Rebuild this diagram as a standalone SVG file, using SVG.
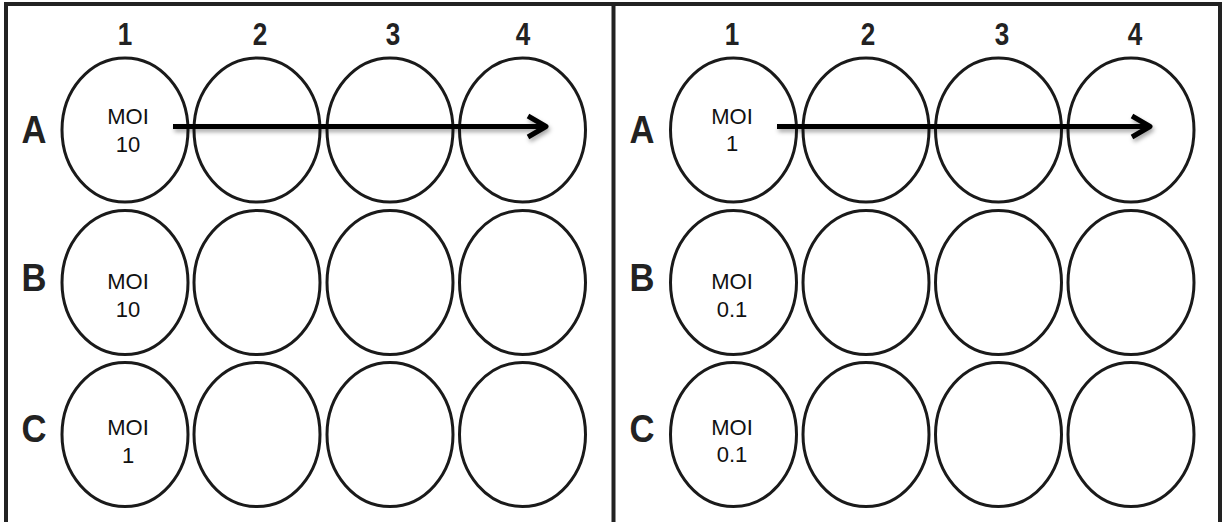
<svg xmlns="http://www.w3.org/2000/svg" width="1227" height="522" viewBox="0 0 1227 522">
  <style>
    .frame { fill: none; stroke: #222; stroke-width: 4; }
    .well { fill: none; stroke: #1a1a1a; stroke-width: 3; }
    .col { font-family: "Liberation Sans", Arial, sans-serif; font-weight: bold; font-size: 31px; fill: #222; text-anchor: middle; }
    .row { font-family: "Liberation Sans", Arial, sans-serif; font-weight: bold; font-size: 38px; fill: #222; text-anchor: middle; }
    .moi { font-family: "Liberation Sans", Arial, sans-serif; font-size: 22px; fill: #111; text-anchor: middle; }
    .arrow { fill: none; stroke: #000; stroke-width: 5; stroke-linejoin: round; }
  </style>
  <defs>
    <filter id="shadow" x="-10%" y="-100%" width="120%" height="300%">
      <feDropShadow dx="1.5" dy="3" stdDeviation="2" flood-color="#000" flood-opacity="0.35"/>
    </filter>
  </defs>
  <rect width="1227" height="522" fill="#fff"/>
  <g id="frame">
    <polyline class="frame" points="6,524 6,4 1220,4 1220,524"/>
    <line class="frame" x1="613.5" y1="4" x2="613.5" y2="524"/>
  </g>
  <g id="labels-left">
    <text class="col" x="125" y="45" textLength="14.5" lengthAdjust="spacingAndGlyphs">1</text>
    <text class="col" x="260" y="45" textLength="14.5" lengthAdjust="spacingAndGlyphs">2</text>
    <text class="col" x="393" y="45" textLength="14.5" lengthAdjust="spacingAndGlyphs">3</text>
    <text class="col" x="523" y="45" textLength="14.5" lengthAdjust="spacingAndGlyphs">4</text>
    <text class="row" x="34" y="143" textLength="25" lengthAdjust="spacingAndGlyphs">A</text>
    <text class="row" x="34" y="291" textLength="25" lengthAdjust="spacingAndGlyphs">B</text>
    <text class="row" x="34" y="442" textLength="25" lengthAdjust="spacingAndGlyphs">C</text>
  </g>
  <g id="labels-right">
    <text class="col" x="732" y="45" textLength="14.5" lengthAdjust="spacingAndGlyphs">1</text>
    <text class="col" x="868" y="45" textLength="14.5" lengthAdjust="spacingAndGlyphs">2</text>
    <text class="col" x="1002" y="45" textLength="14.5" lengthAdjust="spacingAndGlyphs">3</text>
    <text class="col" x="1135" y="45" textLength="14.5" lengthAdjust="spacingAndGlyphs">4</text>
    <text class="row" x="642" y="143" textLength="25" lengthAdjust="spacingAndGlyphs">A</text>
    <text class="row" x="642" y="291" textLength="25" lengthAdjust="spacingAndGlyphs">B</text>
    <text class="row" x="642" y="442" textLength="25" lengthAdjust="spacingAndGlyphs">C</text>
  </g>
  <g id="plate-left">
    <g id="L-A1"><ellipse class="well" cx="125" cy="130" rx="63" ry="72"/><text class="moi" x="128" y="124">MOI</text><text class="moi" x="128" y="152">10</text></g>
    <g id="L-A2"><ellipse class="well" cx="257" cy="130" rx="63" ry="72"/></g>
    <g id="L-A3"><ellipse class="well" cx="390" cy="130" rx="63" ry="72"/></g>
    <g id="L-A4"><ellipse class="well" cx="522.5" cy="130" rx="63" ry="72"/></g>
    <g id="L-B1"><ellipse class="well" cx="125" cy="282.5" rx="63" ry="72"/><text class="moi" x="128" y="289">MOI</text><text class="moi" x="128" y="317">10</text></g>
    <g id="L-B2"><ellipse class="well" cx="257" cy="282.5" rx="63" ry="72"/></g>
    <g id="L-B3"><ellipse class="well" cx="390" cy="282.5" rx="63" ry="72"/></g>
    <g id="L-B4"><ellipse class="well" cx="522.5" cy="282.5" rx="63" ry="72"/></g>
    <g id="L-C1"><ellipse class="well" cx="125" cy="434.5" rx="63" ry="72"/><text class="moi" x="128" y="435">MOI</text><text class="moi" x="128" y="463">1</text></g>
    <g id="L-C2"><ellipse class="well" cx="257" cy="434.5" rx="63" ry="72"/></g>
    <g id="L-C3"><ellipse class="well" cx="390" cy="434.5" rx="63" ry="72"/></g>
    <g id="L-C4"><ellipse class="well" cx="522.5" cy="434.5" rx="63" ry="72"/></g>
  </g>
  <g id="plate-right">
    <g id="R-A1"><ellipse class="well" cx="733.5" cy="130" rx="63" ry="72"/><text class="moi" x="732" y="124">MOI</text><text class="moi" x="732" y="151">1</text></g>
    <g id="R-A2"><ellipse class="well" cx="866" cy="130" rx="63" ry="72"/></g>
    <g id="R-A3"><ellipse class="well" cx="998.5" cy="130" rx="63" ry="72"/></g>
    <g id="R-A4"><ellipse class="well" cx="1131" cy="130" rx="63" ry="72"/></g>
    <g id="R-B1"><ellipse class="well" cx="733.5" cy="282.5" rx="63" ry="72"/><text class="moi" x="732" y="289">MOI</text><text class="moi" x="732" y="317">0.1</text></g>
    <g id="R-B2"><ellipse class="well" cx="866" cy="282.5" rx="63" ry="72"/></g>
    <g id="R-B3"><ellipse class="well" cx="998.5" cy="282.5" rx="63" ry="72"/></g>
    <g id="R-B4"><ellipse class="well" cx="1131" cy="282.5" rx="63" ry="72"/></g>
    <g id="R-C1"><ellipse class="well" cx="733.5" cy="434.5" rx="63" ry="72"/><text class="moi" x="732" y="435">MOI</text><text class="moi" x="732" y="462">0.1</text></g>
    <g id="R-C2"><ellipse class="well" cx="866" cy="434.5" rx="63" ry="72"/></g>
    <g id="R-C3"><ellipse class="well" cx="998.5" cy="434.5" rx="63" ry="72"/></g>
    <g id="R-C4"><ellipse class="well" cx="1131" cy="434.5" rx="63" ry="72"/></g>
  </g>
  <g id="connectors" filter="url(#shadow)">
    <path class="arrow" d="M173,126.5 H546 M528,116 L546,126.5 L528,137"/>
    <path class="arrow" d="M777,126.5 H1150 M1132,116 L1150,126.5 L1132,137"/>
  </g>
</svg>
